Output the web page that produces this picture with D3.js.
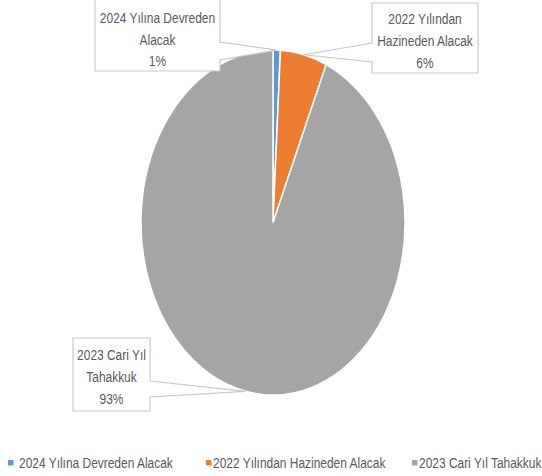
<!DOCTYPE html>
<html><head><meta charset="utf-8">
<script src="https://cdn.jsdelivr.net/npm/d3@7"></script>
<style>
html,body{margin:0;padding:0;background:#fff;}
text{font-family:"Liberation Sans",Arial,sans-serif;fill:#595959;}
</style></head>
<body><svg id="c" width="542" height="476"></svg>
<script>
const categories = ["2024 Yılına Devreden Alacak", "2022 Yılından Hazineden Alacak", "2023 Cari Yıl Tahakkuk"];
const values = [0.9, 5.7, 93.4];
const labelLines = [["2024 Yılına Devreden", "Alacak", "1%"], ["2022 Yılından", "Hazineden Alacak", "6%"], ["2023 Cari Yıl", "Tahakkuk", "93%"]];
const colors = ["#5b9bd5", "#ed7d31", "#a5a5a5"];

const svg = d3.select("#c");
const cx = 273, cy = 222.5, rx = 132, ry = 172.5;
const color = d3.scaleOrdinal().domain(categories).range(colors);
const pie = d3.pie().sort(null).value(d => d.v);
const data = categories.map((c, i) => ({c, v: values[i]}));
const arcs = pie(data);
const arc = d3.arc().innerRadius(0).outerRadius(ry);

// condensed factor: measure natural width of first legend text, fit to reference width
const probe = svg.append("text").attr("font-size", 15).text(categories[0]);
const cf = 154 / probe.node().getComputedTextLength();
probe.remove();

function ctext(x, y, s, size, anchor) {
  svg.append("text")
    .attr("transform", `translate(${x},${y}) scale(${cf},1)`)
    .attr("text-anchor", anchor).attr("dominant-baseline", "central")
    .attr("font-size", size).text(s);
}

const g = svg.append("g").attr("transform", `translate(${cx},${cy}) scale(${rx/ry},1)`);
g.selectAll("path").data(arcs).join("path")
  .attr("d", arc)
  .attr("fill", d => color(d.data.c))
  .attr("stroke", "#fff").attr("stroke-width", 1.5)
  .attr("vector-effect", "non-scaling-stroke");

// callout boxes
const boxes = [
  {x0: 95, y0: -1, x1: 220, y1: 71, side: "right", w0: 42, w1: 60, ty: [18, 40, 61]},
  {x0: 372, y0: 3, x1: 478, y1: 73, side: "left", w0: 43, w1: 62, ty: [19, 41, 63]},
  {x0: 73, y0: 338, x1: 150, y1: 411, side: "right", w0: 381, w1: 397, ty: [355, 377, 399]}
];
arcs.forEach((a, i) => {
  const m = (a.startAngle + a.endAngle) / 2;
  const px = cx + rx * Math.sin(m), py = cy - ry * Math.cos(m);
  const b = boxes[i];
  let p;
  if (b.side === "right") {
    p = `M${b.x0},${b.y0}H${b.x1}V${b.w0}L${px},${py}L${b.x1},${b.w1}V${b.y1}H${b.x0}Z`;
  } else {
    p = `M${b.x0},${b.y0}H${b.x1}V${b.y1}H${b.x0}V${b.w1}L${px},${py}L${b.x0},${b.w0}Z`;
  }
  svg.append("path").attr("d", p).attr("fill", "#fff").attr("stroke", "#c8c8c8").attr("stroke-width", 1.2);
  const tx = (b.x0 + b.x1) / 2;
  labelLines[i].forEach((t, j) => ctext(tx, b.ty[j], t, 15, "middle"));
});

// legend
const legX = [8, 206, 412];
const legTX = [19, 213, 419];
const legY = 463;
categories.forEach((c, i) => {
  svg.append("rect").attr("x", legX[i]).attr("y", legY - 3).attr("width", 5.5).attr("height", 5.5).attr("fill", color(c));
  ctext(legTX[i], legY, c, 15, "start");
});
</script></body></html>
